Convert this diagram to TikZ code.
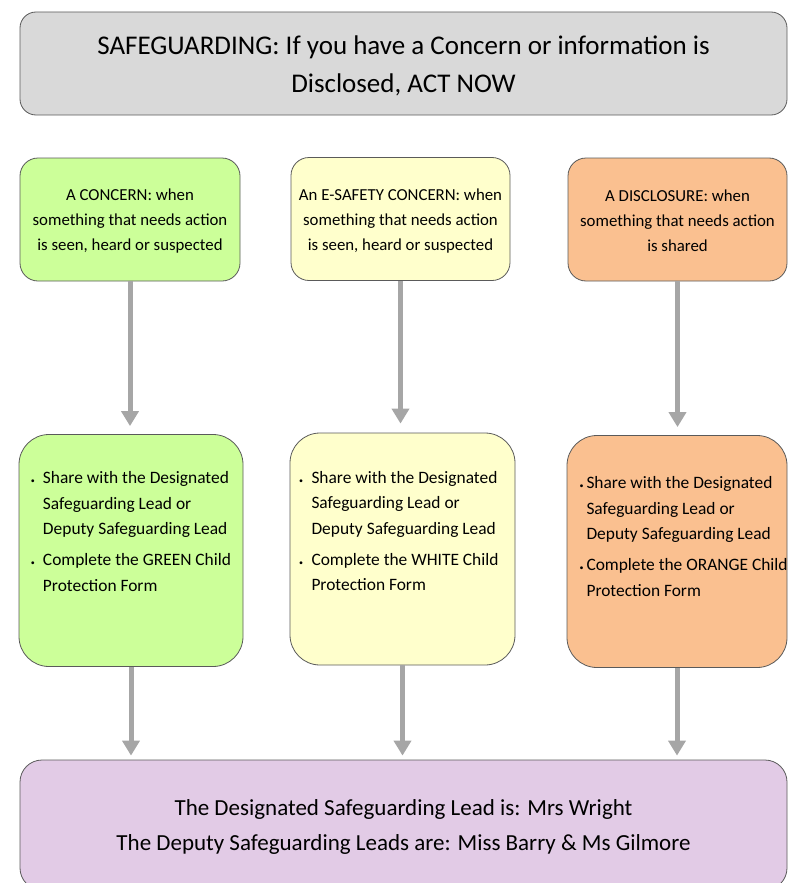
\documentclass[tikz,border=0pt]{standalone}
\usepackage{fontspec}
\setmainfont{Carlito}
\usetikzlibrary{arrows.meta,positioning}

\definecolor{boxline}{HTML}{5A5A5A}
\definecolor{titlegray}{HTML}{D9D9D9}
\definecolor{concerngreen}{HTML}{CCFF99}
\definecolor{safetyyellow}{HTML}{FFFFCC}
\definecolor{discloseorange}{HTML}{FAC090}
\definecolor{leadpurple}{HTML}{E2CBE6}
\definecolor{flowgray}{HTML}{A6A6A6}

% one bullet point with a hanging indent (#1 = bullet width)
\newcommand{\bulletline}[2]{\par\noindent\hangindent=#1\hangafter=1%
  \makebox[#1][l]{\footnotesize\textbullet}#2\par}

% the two steps in a lower box:
% #1 box width, #2 top gap, #3 left inset, #4 bullet width, #5 form colour
\newcommand{\actiontext}[5]{\parbox[c][200pt][t]{#1}{\vspace*{#2}%
  \raggedright\leftskip=#3\relax\rightskip=-20pt plus 1fil\relax
  \bulletline{#4}{Share with the Designated\newline Safeguarding Lead or\newline Deputy Safeguarding Lead}%
  \vspace{5.5pt}%
  \bulletline{#4}{Complete the #5 Child\newline Protection Form}}}

\tikzset{
  panel/.style={draw=boxline, line width=0.8pt, rounded corners=18pt,
    align=center, inner sep=0pt},
  headbox/.style={panel, minimum width=220, minimum height=123,
    font=\fontsize{16.8}{25}\selectfont},
  actionbox/.style={panel, rounded corners=30pt, minimum height=232,
    font=\fontsize{17.4}{25.5}\selectfont},
  flow/.style={draw=flowgray, line width=5pt,
    -{Triangle[width=17pt,length=15pt]}},
}

\begin{document}
\begin{tikzpicture}[x=1pt, y=-1pt]
  \useasboundingbox (0,0) rectangle (789,883);

  %title
  \node[panel, fill=titlegray, rounded corners=16pt, minimum width=767,
    minimum height=103, font=\fontsize{27}{38}\selectfont] (title) at (403.5,63.5)
    {\rule{0pt}{24pt}SAFEGUARDING: If you have a Concern or information is\\Disclosed, ACT NOW};

  %what happened
  \node[headbox, fill=concerngreen] (concern) at (130,219.5)
    {\rule{0pt}{15pt}A CONCERN: when\\something that needs action\\is seen, heard or suspected};
  \node[headbox, fill=safetyyellow, minimum width=219] (esafety) at (400.5,219)
    {\rule{0pt}{15pt}An E-SAFETY CONCERN: when\\something that needs action\\is seen, heard or suspected};
  \node[headbox, fill=discloseorange, minimum width=219] (disclosure) at (677.5,219.5)
    {\rule{0pt}{15pt}A DISCLOSURE: when\\something that needs action\\is shared};

  %what to do
  \node[actionbox, fill=concerngreen, minimum width=224] (shareA) at (131,550.5)
    {\actiontext{224pt}{21pt}{12pt}{12pt}{GREEN}};
  \node[actionbox, fill=safetyyellow, minimum width=225] (shareB) at (402.5,549)
    {\actiontext{225pt}{22pt}{9pt}{12.5pt}{WHITE}};
  \node[actionbox, fill=discloseorange, minimum width=220] (shareC) at (677,551.5)
    {\actiontext{220pt}{25pt}{12.5pt}{7pt}{ORANGE}};

  %leads
  \node[panel, fill=leadpurple, rounded corners=22pt, minimum width=767,
    minimum height=130, font=\fontsize{23}{35}\selectfont] (leads) at (403.5,825)
    {\rule{0pt}{20pt}The Designated Safeguarding Lead is: Mrs Wright\\The Deputy Safeguarding Leads are: Miss Barry \& Ms Gilmore};

  %arrows
  \draw[flow, shorten >=8pt] (concern.south) -- (concern.south |- shareA.north);
  \draw[flow, shorten >=9pt] (esafety.south) -- (esafety.south |- shareB.north);
  \draw[flow, shorten >=8pt] (disclosure.south) -- (disclosure.south |- shareC.north);
  \draw[flow, shorten >=4pt] (shareA.south) -- (shareA.south |- leads.north);
  \draw[flow, shorten >=4pt] (shareB.south) -- (shareB.south |- leads.north);
  \draw[flow, shorten >=4pt] (shareC.south) -- (shareC.south |- leads.north);
\end{tikzpicture}
\end{document}
